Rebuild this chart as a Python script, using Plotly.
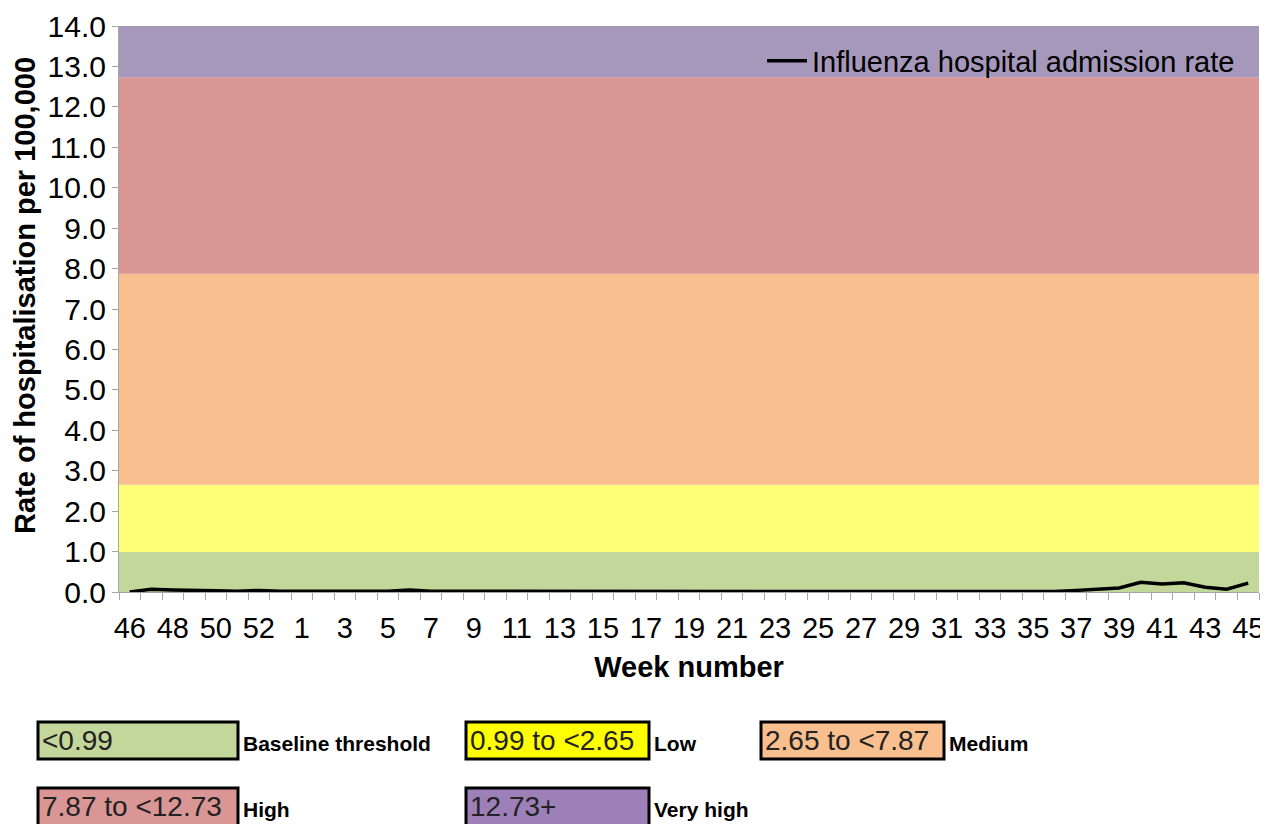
import plotly.graph_objects as go

weeks = [46, 47, 48, 49, 50, 51, 52, 53] + list(range(1, 46))
rates = [0.00, 0.07, 0.05, 0.03, 0.03, 0.02, 0.04, 0.02,
         0.02, 0.02, 0.02, 0.02, 0.02, 0.05, 0.02, 0.02, 0.02, 0.02,
         0.01, 0.01, 0.01, 0.01, 0.01, 0.01, 0.01, 0.01, 0.01, 0.01,
         0.01, 0.01, 0.01, 0.01, 0.01, 0.01, 0.01, 0.01,
         0.02, 0.01, 0.02, 0.01, 0.01, 0.02, 0.03, 0.01,
         0.04, 0.08, 0.10, 0.24, 0.20, 0.23, 0.12, 0.07, 0.22]

band_edges = [0, 0.99, 2.65, 7.87, 12.73, 14]
band_colors = ["#c4d79b", "#ffff77", "#f9bf8f", "#da9694", "#a698bb"]
box_colors = ["#c4d79b", "#ffff00", "#fabf8f", "#da9694", "#9e80b8"]
box_texts = ["<0.99", "0.99 to <2.65", "2.65 to <7.87", "7.87 to <12.73", "12.73+"]
box_labels = ["Baseline threshold", "Low", "Medium", "High", "Very high"]

OFF = 8  # page body margin
W, H = 1268 - OFF, 824 - OFF
# plot area in page pixels
L, R, T, B = 119, 1259, 26, 592
FONT = "Liberation Sans, Arial, sans-serif"

x_idx = list(range(len(weeks)))


def px(xp):
    return (xp - L) / (R - L)


def py(yp):
    return (B - yp) / (B - T)


fig = go.Figure()
fig.add_trace(go.Scatter(
    x=x_idx, y=rates, mode="lines", name="Influenza hospital admission rate",
    line=dict(color="black", width=3.5), showlegend=True))

shapes = []
for i in range(len(band_colors)):
    shapes.append(dict(type="rect", xref="x domain", yref="y", x0=0, x1=1,
                       y0=band_edges[i], y1=band_edges[i + 1],
                       fillcolor=band_colors[i], line=dict(width=0), layer="below"))

# bottom key boxes in page px: (left, right, top, bottom)
box_pos = [(38, 238, 722, 759), (466, 649, 722, 759), (761, 944, 722, 759),
           (38, 238, 788, 826), (466, 649, 788, 826)]
annotations = []
for (x0, x1, y0, y1), col, txt, lab in zip(box_pos, box_colors, box_texts, box_labels):
    shapes.append(dict(type="rect", xref="paper", yref="paper",
                       x0=px(x0), x1=px(x1), y0=py(y1), y1=py(y0),
                       fillcolor=col, line=dict(color="black", width=3)))
    yc = y0 + 18.5
    annotations.append(dict(xref="paper", yref="paper", x=px(x0 + 2),
                            y=py(yc), text=txt,
                            showarrow=False, xanchor="left", yanchor="middle",
                            font=dict(family=FONT, size=28, color="#222222")))
    annotations.append(dict(xref="paper", yref="paper", x=px(x1 + 3),
                            y=py(yc + 3),
                            text="<b>" + lab + "</b>",
                            showarrow=False, xanchor="left", yanchor="middle",
                            font=dict(family=FONT, size=21, color="black")))

annotations.append(dict(xref="paper", yref="paper", x=px(25), y=py(296),
                        text="<b>Rate of hospitalisation per 100,000</b>",
                        textangle=-90, showarrow=False, xanchor="center", yanchor="middle",
                        font=dict(family=FONT, size=29, color="black")))

fig.update_layout(
    width=W, height=H,
    margin=dict(l=L - OFF, r=W - (R - OFF), t=T - OFF, b=H - (B - OFF), pad=0,
                autoexpand=False),
    paper_bgcolor="white", plot_bgcolor="white",
    font=dict(family=FONT, size=22, color="black"),
    shapes=shapes, annotations=annotations,
    showlegend=True,
    legend=dict(x=px(1240), y=py(61), xanchor="right", yanchor="middle",
                bgcolor="rgba(0,0,0,0)", font=dict(family=FONT, size=29, color="black"),
                itemwidth=40, tracegroupgap=0),
    xaxis=dict(
        range=[-0.5, len(weeks) - 0.5],
        tickmode="array", tickvals=x_idx[::2], ticktext=[str(w) for w in weeks[::2]],
        ticks="outside", ticklen=10, tickcolor="rgba(0,0,0,0)",
        showgrid=False, zeroline=False,
        showline=True, linecolor="#a6a6a6", linewidth=1,
        tickfont=dict(family=FONT, size=29, color="black"),
        minor=dict(tick0=-0.5, dtick=1, ticks="outside", ticklen=7,
                   tickcolor="#a6a6a6", tickwidth=1, showgrid=False),
        title=dict(text="<b>Week number</b>", font=dict(family=FONT, size=29, color="black"),
                   standoff=13),
    ),
    yaxis=dict(
        range=[0, 14], dtick=1, tick0=0, tickformat=".1f",
        ticks="outside", ticklen=6, tickcolor="#a6a6a6",
        showgrid=False, zeroline=False,
        showline=True, linecolor="#a6a6a6", linewidth=1,
        tickfont=dict(family=FONT, size=30, color="black"),
    ),
)

fig.write_html("out.html")
